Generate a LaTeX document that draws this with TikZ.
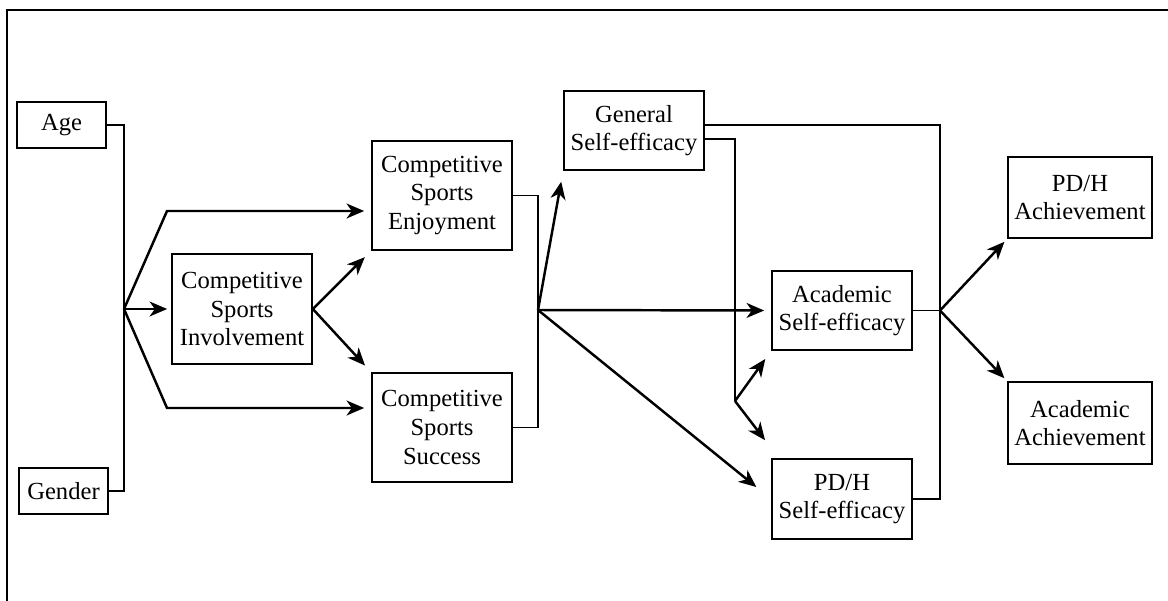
\documentclass[tikz,border=0pt]{standalone}
\usepackage{fontspec}
\setmainfont{Liberation Serif}
\usetikzlibrary{positioning}
\usetikzlibrary{arrows.meta}
\usetikzlibrary{calc}

\begin{document}
\begin{tikzpicture}[x=0.02cm,y=0.02cm,
        box/.style={draw,line width=1pt,align=center,inner sep=0pt,font=\fontsize{14}{16.3}\selectfont},
        link/.style={line width=0.9pt},
        arr/.style={line width=1.4pt,-{Stealth[length=10pt,width=8.5pt,inset=3pt]},shorten >=#1},
        arr/.default=0pt]
        \useasboundingbox (0,0) rectangle (1168,600);
        \clip (0,0) rectangle (1168,600);
        \draw[line width=1.1pt] (7,-10) |- (1180,590);

        \node[box,minimum width=1.78cm,minimum height=0.92cm] (age) at (61.5,475) {Age};
        \node[box,minimum width=1.78cm,minimum height=0.92cm] (gender) at (63.5,109) {Gender};
        \node[box,minimum width=2.8cm,minimum height=2.2cm] (involve) at (242,291) {Competitive\\Sports\\Involvement};
        \node[box,minimum width=2.8cm,minimum height=2.18cm] (enjoy) at (442,404.5) {Competitive\\Sports\\Enjoyment};
        \node[box,minimum width=2.8cm,minimum height=2.18cm] (success) at (442,172.5) {Competitive\\Sports\\Success};
        \node[box,minimum width=2.8cm,minimum height=1.58cm] (general) at (634,469.5) {General\\Self-efficacy};
        \node[box,minimum width=2.8cm,minimum height=1.58cm] (acadse) at (842,289.5) {Academic\\Self-efficacy};
        \node[box,minimum width=2.8cm,minimum height=1.6cm] (pdhse) at (842,101) {PD/H\\Self-efficacy};
        \node[box,minimum width=2.88cm,minimum height=1.62cm] (pdhach) at (1080,402.5) {PD/H\\Achievement};
        \node[box,minimum width=2.88cm,minimum height=1.64cm] (acadach) at (1080,177) {Academic\\Achievement};

        \coordinate (jA) at (124,291);
        \coordinate (kE) at (167,389);
        \coordinate (kS) at (167,192);
        \coordinate (jB) at (538,290);
        \coordinate (jC) at (735,199);
        \coordinate (jD) at (940,289.5);

        \draw[link] (age.east) -| (jA) |- (gender.east);
        \draw[arr=0.08cm] (jA) -- (involve);
        \draw[arr=0.14cm] (jA) -- (kE) -- (kE -| enjoy.west);
        \draw[arr=0.14cm] (jA) -- (kS) -- (kS -| success.west);
        \draw[arr=0.18cm] (involve.east) -- (enjoy.south west);
        \draw[arr=0.18cm] (involve.east) -- (success.north west);
        \draw[link] (enjoy.east) -| (jB) |- (success.east);
        \draw[arr=0.22cm] (jB) -- (general.south west);
        \draw[arr=0.14cm] (jB) -- (acadse.west);
        \draw[arr=0.38cm] (jB) -- (pdhse.west);
        \draw[link] ([yshift=-0.17cm]general.east) -| (jC);
        \draw[arr=0.2cm] (jC) -- (acadse.south west);
        \draw[arr=0.2cm] (jC) -- ($(pdhse.north west)+(0,10)$);
        \draw[link] ([yshift=0.11cm]general.east) -| (jD) |- (pdhse.east);
        \draw[link] (acadse.east) -- (jD);
        \draw[arr=0.08cm] (jD) -- (pdhach.south west);
        \draw[arr=0.08cm] (jD) -- (acadach.north west);
\end{tikzpicture}
\end{document}
